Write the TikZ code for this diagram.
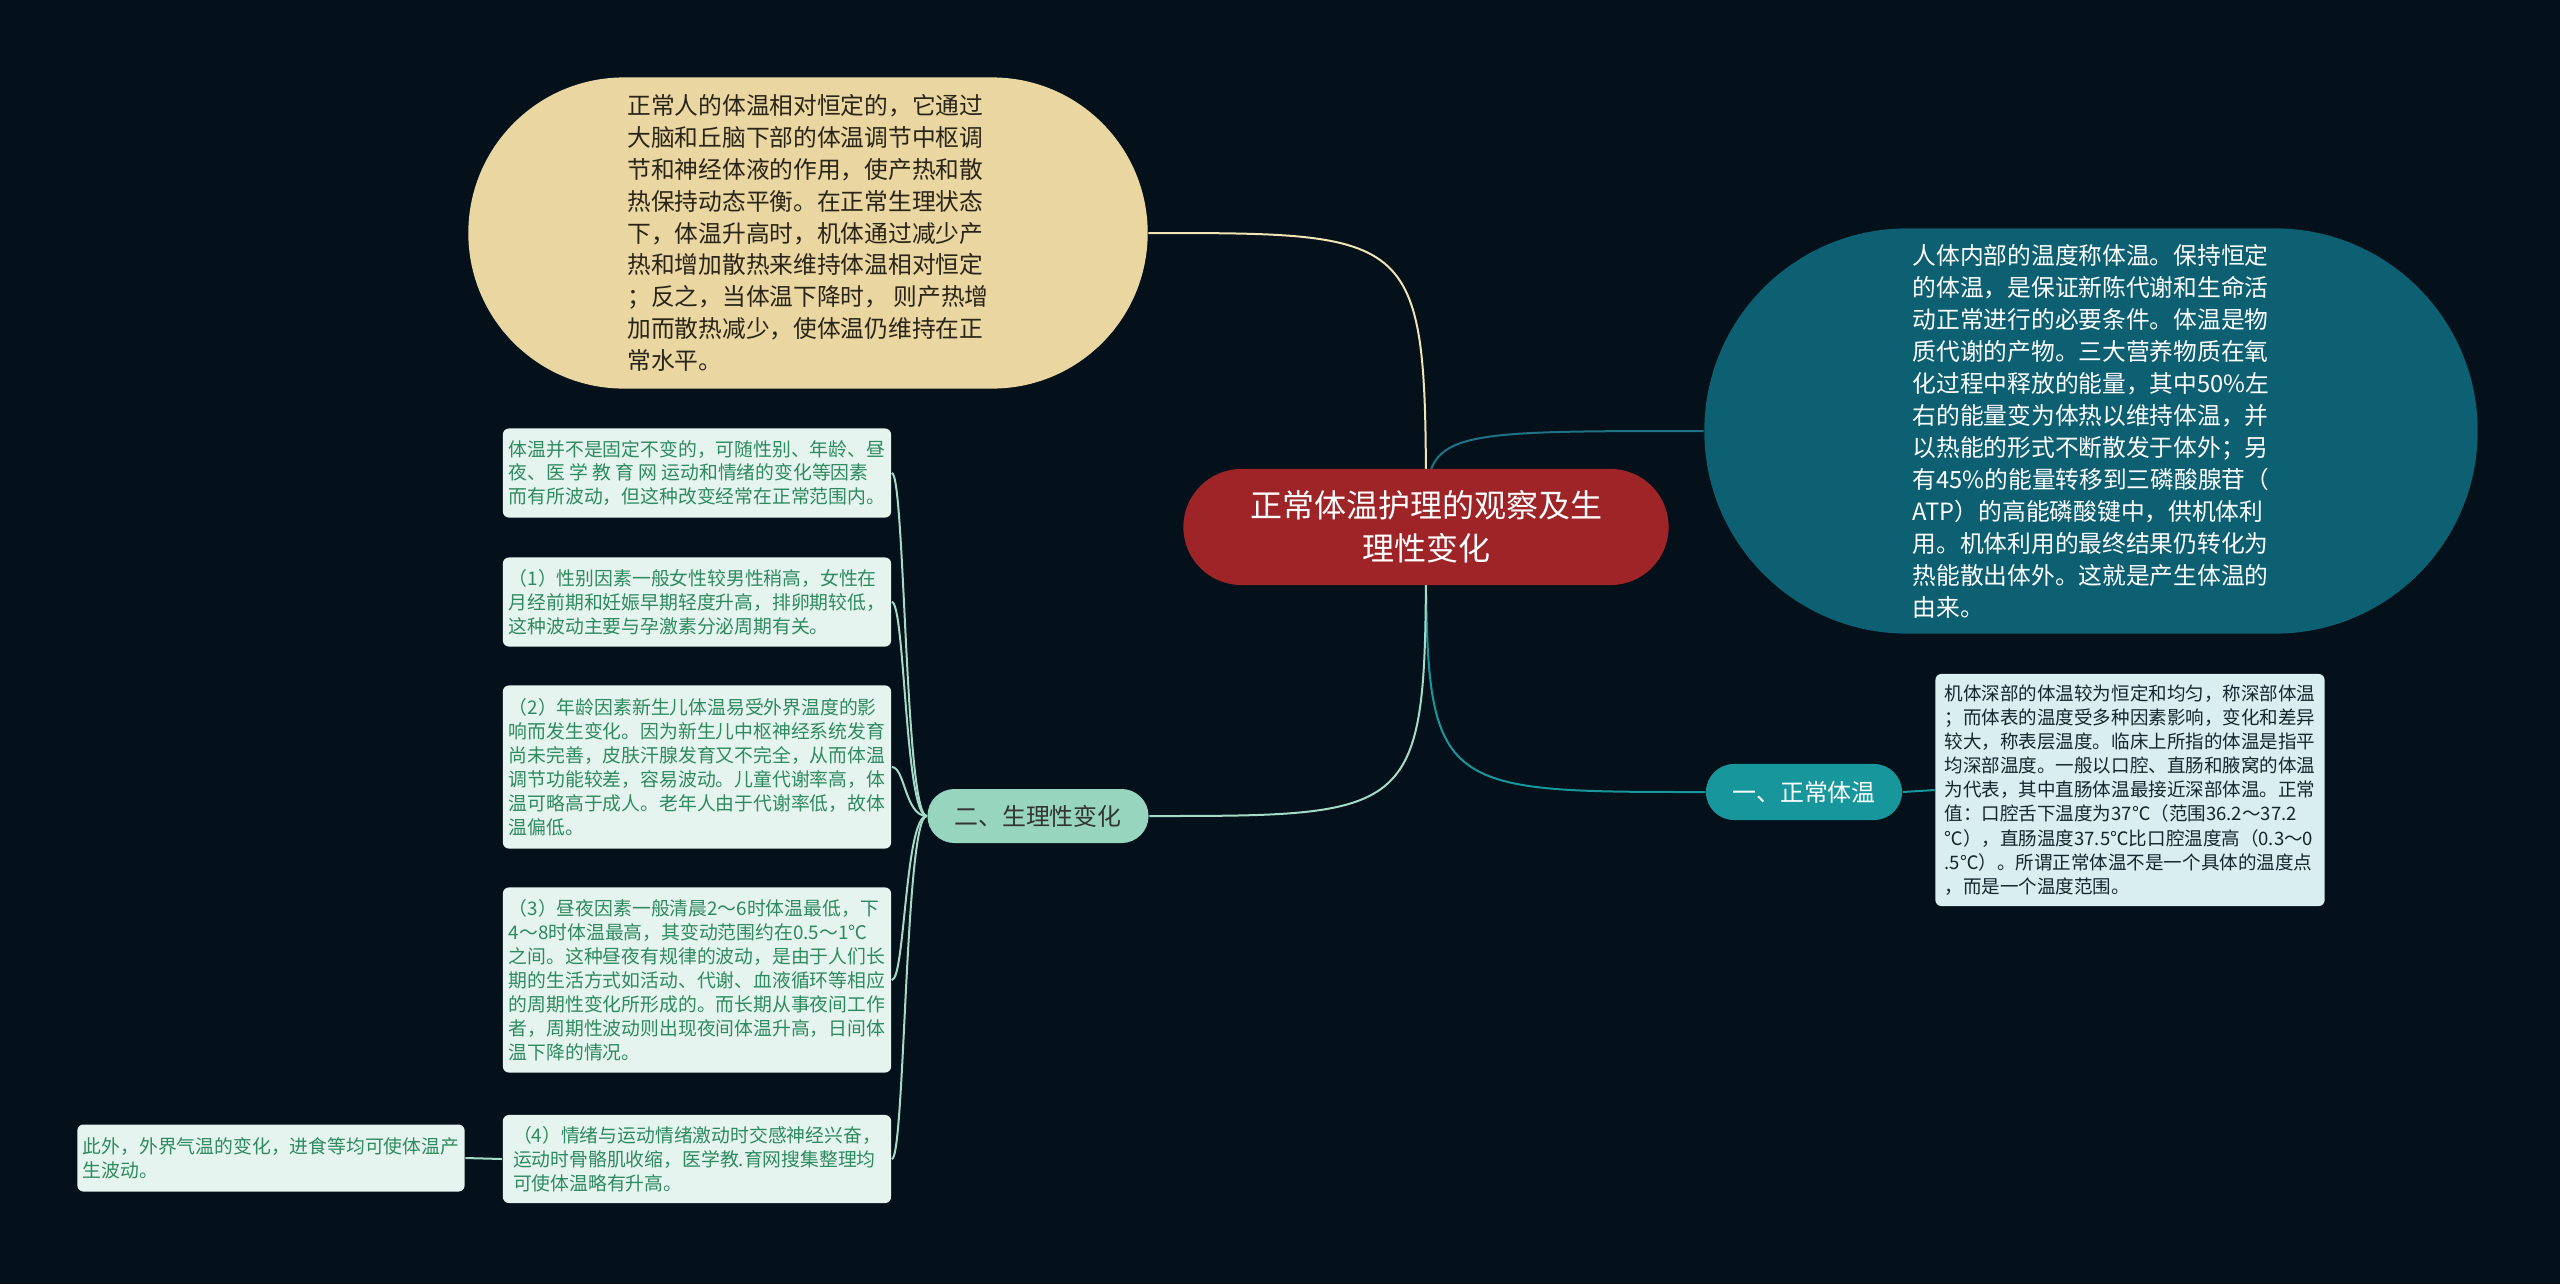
\documentclass[tikz,border=0pt]{standalone}
\usepackage{fontspec}
\setmainfont{Noto Sans CJK SC}
\usepackage{xcolor}
\usepackage{tikz}
\usetikzlibrary{shapes.misc,backgrounds}
\definecolor{bgc}{HTML}{04111A}
\definecolor{rootc}{HTML}{9E2428}
\definecolor{sandc}{HTML}{E9D6A1}
\definecolor{sandln}{HTML}{F1E4B4}
\definecolor{sandtxt}{HTML}{2A2418}
\definecolor{oceanc}{HTML}{0D5F72}
\definecolor{oceanln}{HTML}{1F7385}
\definecolor{tealc}{HTML}{17979B}
\definecolor{deepc}{HTML}{D8EEF0}
\definecolor{deeptxt}{HTML}{14262E}
\definecolor{mintc}{HTML}{98D5BF}
\definecolor{mintln}{HTML}{A5DBC6}
\definecolor{leafc}{HTML}{E5F4EE}
\definecolor{leaftxt}{HTML}{2E8A60}

\begin{document}
\begin{tikzpicture}[x=0.01cm,y=-0.01cm,
	pill/.style={rounded rectangle,inner sep=0pt,align=center},
	leaf/.style={fill=leafc,text=leaftxt,rounded corners=0.06cm,inner sep=0pt,align=left,minimum width=3.88cm,font=\fontsize{5.35}{6.8}\selectfont},
	link/.style={line width=0.02cm}]
	\useasboundingbox (0,0) rectangle (2560,1284);
	\node[pill,fill=rootc,text=white,minimum width=4.85cm,minimum height=1.16cm,font=\fontsize{9.1}{12.1}\selectfont] (main) at (1426,527) {正常体温护理的观察及生\\理性变化};
	\node[pill,fill=sandc,text=sandtxt,align=left,minimum width=6.79cm,minimum height=3.11cm,font=\fontsize{6.75}{9.05}\selectfont] (heat) at (808,233) {正常人的体温相对恒定的，它通过\\大脑和丘脑下部的体温调节中枢调\\节和神经体液的作用，使产热和散\\热保持动态平衡。在正常生理状态\\下，体温升高时，机体通过减少产\\热和增加散热来维持体温相对恒定\\；反之，当体温下降时， 则产热增\\加而散热减少，使体温仍维持在正\\常水平。};
	\node[pill,fill=oceanc,text=white,align=left,minimum width=7.73cm,minimum height=4.05cm,font=\fontsize{6.75}{9.1}\selectfont] (def) at (2091,431) {人体内部的温度称体温。保持恒定\\的体温，是保证新陈代谢和生命活\\动正常进行的必要条件。体温是物\\质代谢的产物。三大营养物质在氧\\化过程中释放的能量，其中50\%左\\右的能量变为体热以维持体温，并\\以热能的形式不断散发于体外；另\\有45\%的能量转移到三磷酸腺苷（\\ATP）的高能磷酸键中，供机体利\\用。机体利用的最终结果仍转化为\\热能散出体外。这就是产生体温的\\由来。};
	\node[pill,fill=tealc,text=white,minimum width=1.96cm,minimum height=0.56cm,font=\fontsize{6.8}{8}\selectfont] (normal) at (1804,792) {一、正常体温};
	\node[fill=deepc,text=deeptxt,rounded corners=0.06cm,inner sep=0pt,align=left,minimum width=3.89cm,minimum height=2.32cm,font=\fontsize{5.27}{6.85}\selectfont] (deep) at (2130,790) {机体深部的体温较为恒定和均匀，称深部体温\\；而体表的温度受多种因素影响，变化和差异\\较大，称表层温度。临床上所指的体温是指平\\均深部温度。一般以口腔、直肠和腋窝的体温\\为代表，其中直肠体温最接近深部体温。正常\\值：口腔舌下温度为37℃（范围36.2～37.2\\℃），直肠温度37.5℃比口腔温度高（0.3～0\\.5℃）。所谓正常体温不是一个具体的温度点\\，而是一个温度范围。};
	\node[pill,fill=mintc,text=black!80,minimum width=2.21cm,minimum height=0.54cm,font=\fontsize{6.8}{8}\selectfont] (change) at (1038,816) {二、生理性变化};
	\node[leaf,minimum height=0.89cm] (c0) at (697,473) {体温并不是固定不变的，可随性别、年龄、昼\\夜、医 学 教 育 网 运动和情绪的变化等因素\\而有所波动，但这种改变经常在正常范围内。};
	\node[leaf,minimum height=0.89cm] (c1) at (697,602) {（1）性别因素一般女性较男性稍高，女性在\\月经前期和妊娠早期轻度升高，排卵期较低，\\这种波动主要与孕激素分泌周期有关。};
	\node[leaf,minimum height=1.63cm] (c2) at (697,767) {（2）年龄因素新生儿体温易受外界温度的影\\响而发生变化。因为新生儿中枢神经系统发育\\尚未完善，皮肤汗腺发育又不完全，从而体温\\调节功能较差，容易波动。儿童代谢率高，体\\温可略高于成人。老年人由于代谢率低，故体\\温偏低。};
	\node[leaf,minimum height=1.85cm] (c3) at (697,980) {（3）昼夜因素一般清晨2～6时体温最低，下\\4～8时体温最高，其变动范围约在0.5～1℃\\之间。这种昼夜有规律的波动，是由于人们长\\期的生活方式如活动、代谢、血液循环等相应\\的周期性变化所形成的。而长期从事夜间工作\\者，周期性波动则出现夜间体温升高，日间体\\温下降的情况。};
	\node[leaf,minimum height=0.88cm] (c4) at (697,1159) {（4）情绪与运动情绪激动时交感神经兴奋，\\运动时骨骼肌收缩，医学教.育网搜集整理均\\可使体温略有升高。};
	\node[leaf,minimum width=3.87cm,minimum height=0.67cm] (extra) at (271,1158) {此外，外界气温的变化，进食等均可使体温产\\生波动。};
	\coordinate (bend) at (905,816);
	\begin{scope}[on background layer]
		\fill[bgc] (0,0) rectangle (2560,1284);
		\draw[link,sandln] (main.center) .. controls (main.center |- heat.east) .. (heat.east);
		\draw[link,oceanln] (main.center) .. controls (main.center |- def.west) .. (def.west);
		\draw[link,tealc] (main.center) .. controls (main.center |- normal.west) .. (normal.west);
		\draw[link,mintln] (main.center) .. controls (main.center |- change.east) .. (change.east);
		\draw[link,tealc] (normal.east) -- (deep.west);
		\foreach \n in {c0,c1,c2,c3,c4}
			\draw[link,mintln] (change.west) .. controls (bend) and (bend |- \n.east) .. (\n.east);
		\draw[link,mintln] (c4.west) -- (extra.east);
	\end{scope}
\end{tikzpicture}
\end{document}
